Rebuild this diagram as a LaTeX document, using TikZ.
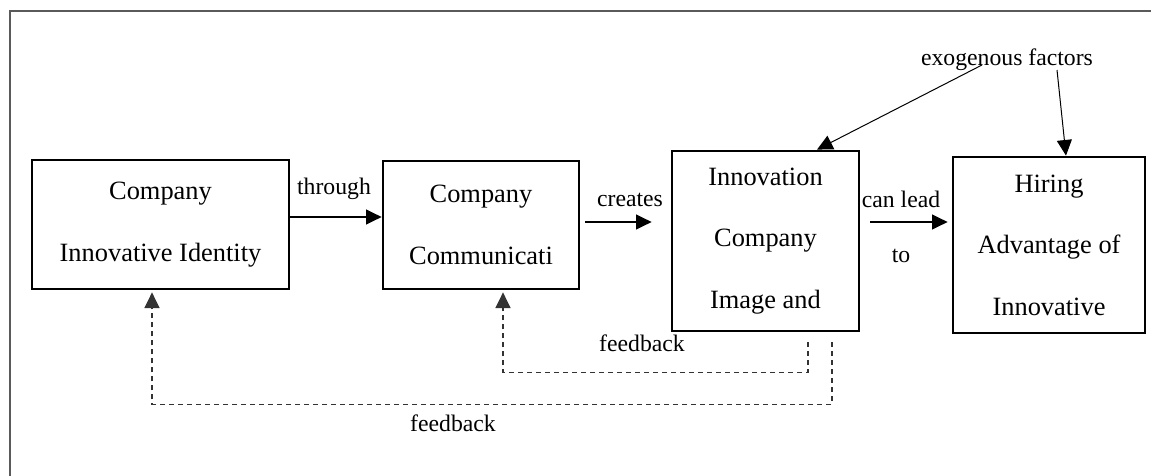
\documentclass[tikz,border=0pt]{standalone}
\usepackage{fontspec}
\setmainfont{Liberation Serif}
\usetikzlibrary{arrows.meta,positioning}
\definecolor{frameGray}{HTML}{5A5A5A}
\definecolor{fbGray}{HTML}{333333}

\begin{document}
\begin{tikzpicture}[x=0.5pt,y=-0.5pt,
      blk/.style={draw=black,line width=1.4pt,align=center,inner sep=0pt,
                  font=\fontsize{13.2}{30.8}\selectfont},
      lbl/.style={inner sep=0pt,font=\fontsize{11.85}{14}\selectfont},
      arr/.style={->,line width=0.6pt},
      fb/.style={->,line width=0.55pt,fbGray,dash pattern=on 2.5pt off 2pt},
      >={Triangle[length=7.8pt,width=7.5pt]}]
    \useasboundingbox (0,0) rectangle (1151,476);
    % outer frame (open at right and bottom)
    \draw[frameGray,line width=1pt] (10,480) |- (1155,11);
    % the four blocks
    \node[blk,minimum width=128.5pt,minimum height=64.5pt] (ident) at (160.5,224.5)
      {Company\\Innovative Identity};
    \node[blk,minimum width=98pt,minimum height=64pt] (comm) at (481,225)
      {Company\\Communicati};
    \node[blk,minimum width=93.5pt,minimum height=90pt] (image) at (765.5,241)
      {Innovation\\Company\\Image and};
    \node[blk,minimum width=96pt,minimum height=88pt] (hire) at (1049,245)
      {Hiring\\Advantage of\\Innovative};
    % forward arrows
    \draw[arr] ([yshift=3.75pt]ident.east) -- ([yshift=4pt]comm.west);
    \draw[arr,shorten <=2.5pt,shorten >=9.5pt] ([yshift=1.5pt]comm.east) -- ([yshift=1.5pt]comm.east -| image.west);
    \draw[arr,shorten <=5pt,shorten >=2pt] ([yshift=9.5pt]image.east) -- ([yshift=9.5pt]image.east -| hire.west);
    \node[lbl] (through) at (334,189) {through};
    \node[lbl] (creates) at (630,200) {creates};
    \node[lbl] (canlead) at (901,199) {can lead};
    \node[lbl] (to) at (901,256) {to};
    % exogenous factors
    \node[lbl] (exo) at (1007,60) {exogenous factors};
    \draw[arr,line width=0.5pt] ([xshift=-12.5pt,yshift=-2.5pt]exo.center) -- ([xshift=25.75pt]image.north);
    \draw[arr,line width=0.5pt] ([xshift=25pt,yshift=-5pt]exo.center) -- ([xshift=8.5pt]hire.north);
    % feedback loops
    \draw[fb] ([xshift=21.25pt,yshift=-5pt]image.south) |- ([xshift=11pt,yshift=-41pt]comm.south)
      -- ([xshift=11pt,yshift=-1pt]comm.south);
    \draw[fb] ([xshift=33.25pt,yshift=-5pt]image.south) |- ([xshift=-4.25pt,yshift=-57pt]ident.south)
      -- ([xshift=-4.25pt,yshift=-1pt]ident.south);
    \node[lbl] (fbinner) at (642,343.5) {feedback};
    \node[lbl] (fbouter) at (453,423.5) {feedback};
  \end{tikzpicture}
\end{document}
